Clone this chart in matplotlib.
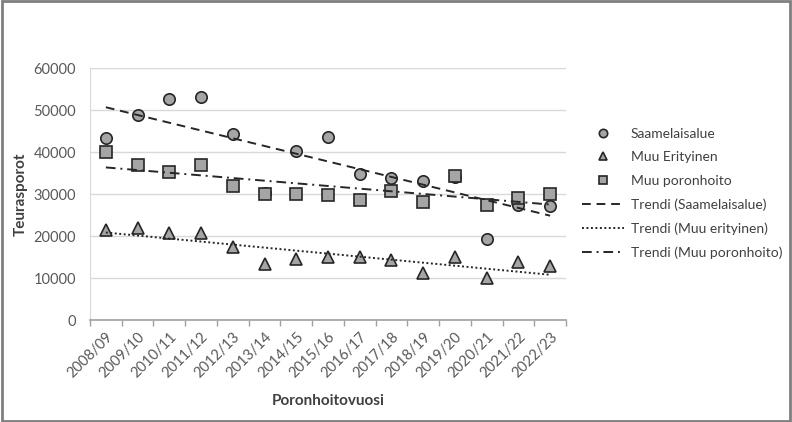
import numpy as np
import matplotlib
matplotlib.use("Agg")
import matplotlib.pyplot as plt
from matplotlib.lines import Line2D
from matplotlib.patches import Rectangle

years = ["2008/09", "2009/10", "2010/11", "2011/12", "2012/13", "2013/14", "2014/15",
         "2015/16", "2016/17", "2017/18", "2018/19", "2019/20", "2020/21", "2021/22", "2022/23"]
saamelaisalue = [43400, 48900, 52700, 53000, 44200, 30300, 40300, 43600, 34800, 33800,
                 33200, 34000, 19300, 27500, 27200]
muu_erityinen = [21500, 21900, 20800, 20600, 17300, 13300, 14500, 15000, 15000, 14200,
                 11100, 15000, 10100, 13800, 12900]
muu_poronhoito = [39900, 36800, 35200, 36800, 31900, 30000, 30100, 29800, 28600, 30600,
                  28200, 34400, 27300, 29100, 29900]
y_ticks = [0, 10000, 20000, 30000, 40000, 50000, 60000]

plt.rcParams['font.family'] = ['Lato', 'DejaVu Sans']

fig = plt.figure(figsize=(7.92, 4.22), dpi=100)
ax = fig.add_axes([90/792, (422-320)/422, (566-90)/792, (320-68)/422])

x = np.arange(len(years))
face = "#A5A5A5"
edge = "#262626"
ax.plot(x, saamelaisalue, linestyle='none', marker='o', ms=8.2, mfc=face, mec=edge, mew=1.2, zorder=3)
ax.plot(x, muu_erityinen, linestyle='none', marker='^', ms=8.0, mfc=face, mec=edge, mew=1.2, zorder=3)
ax.plot(x, muu_poronhoito, linestyle='none', marker='s', ms=8.2, mfc=face, mec=edge, mew=1.2, zorder=3)

styles = [(0, (4.5, 3)), (0, (1, 1.3)), (0, (5, 2.5, 1, 2.5))]
for vals, ls in zip([saamelaisalue, muu_erityinen, muu_poronhoito], styles):
    k, b = np.polyfit(x, vals, 1)
    ax.plot([x[0], x[-1]], [b + k * x[0], b + k * x[-1]], color=edge, lw=1.4,
            linestyle=ls, zorder=4)

ax.set_xlim(-0.5, len(years) - 0.5)
ax.set_ylim(0, 60000)
ax.set_yticks(y_ticks)
ax.set_yticklabels([str(v) for v in y_ticks])
ax.set_xticks(x)
ax.set_xticklabels(years, rotation=45, ha='right', va='top', rotation_mode='anchor')
ax.set_xticks(np.arange(len(years) + 1) - 0.5, minor=True)
ax.tick_params(axis='x', which='major', length=0, pad=7, labelsize=10.5, colors='#595959')
ax.tick_params(axis='x', which='minor', length=4, color='#A0A0A0', width=1, direction='out')
ax.tick_params(axis='y', length=0, pad=10, labelsize=10.5, colors='#595959')

ax.grid(axis='y', color='#D9D9D9', lw=1)
ax.set_axisbelow(True)
for s in ['top', 'right']:
    ax.spines[s].set_visible(False)
ax.spines['left'].set_color('#D9D9D9')
ax.spines['bottom'].set_color('#A0A0A0')
ax.spines['bottom'].set_linewidth(1.2)

ax.set_ylabel("Teurasporot", fontsize=11, fontweight='bold', color='#404040', labelpad=4)
ax.set_xlabel("Poronhoitovuosi", fontsize=11, fontweight='bold', color='#404040', labelpad=10)

handles = [
    Line2D([], [], linestyle='none', marker='o', ms=6, mfc=face, mec=edge, mew=1.2),
    Line2D([], [], linestyle='none', marker='^', ms=6, mfc=face, mec=edge, mew=1.2),
    Line2D([], [], linestyle='none', marker='s', ms=6, mfc=face, mec=edge, mew=1.2),
    Line2D([], [], color=edge, lw=1.4, linestyle=styles[0]),
    Line2D([], [], color=edge, lw=1.4, linestyle=styles[1]),
    Line2D([], [], color=edge, lw=1.4, linestyle=styles[2]),
]
labels = ["Saamelaisalue", "Muu Erityinen", "Muu poronhoito",
          "Trendi (Saamelaisalue)", "Trendi (Muu erityinen)", "Trendi (Muu poronhoito)"]
leg = fig.legend(handles, labels, loc='upper left', bbox_to_anchor=(575/792, 1 - 121/422),
                 frameon=False, fontsize=10, handlelength=3.0, handletextpad=0.5,
                 labelspacing=0.82, borderpad=0)
for t in leg.get_texts():
    t.set_color('#404040')

fig.patches.append(Rectangle((0.002, 0.003), 0.996, 0.994, transform=fig.transFigure,
                             fill=False, edgecolor='#7F7F7F', lw=2))

fig.savefig("out.png", dpi=100)
